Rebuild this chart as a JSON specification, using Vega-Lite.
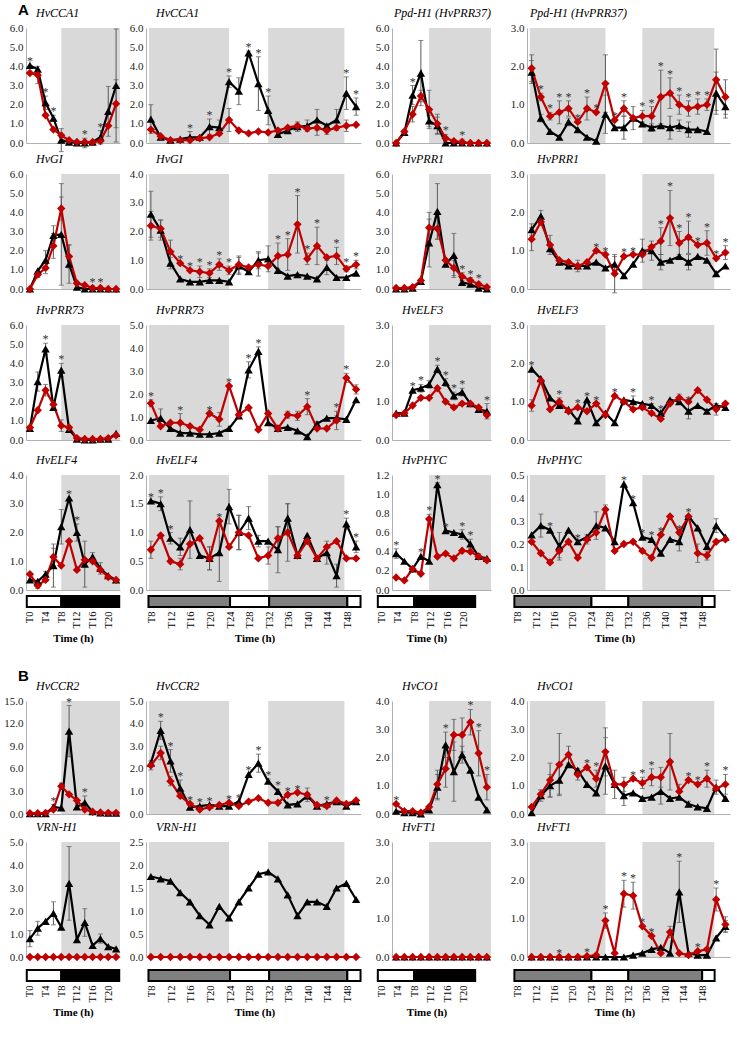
{
"$schema":"https://vega.github.io/schema/vega-lite/v6.json",
"padding":{"left":3,"top":3,"right":2,"bottom":2},
"datasets":{
"sn":[{"a":8,"b":23}],
"sw":[{"a":7.6,"b":24},{"a":32,"b":47.6}],
"bn":[{"a":-0.8,"b":8,"c":"L"},{"a":8,"b":22.8,"c":"D"}],
"bw":[{"a":7.3,"b":24,"c":"S"},{"a":24,"b":32,"c":"L"},{"a":32,"b":48,"c":"S"},{"a":48,"b":50.7,"c":"L"}],
"a1":[{"s":"b","t":0,"v":4.05,"k":1},{"s":"b","t":2,"v":3.85},{"s":"b","t":4,"v":2.1,"e":0.35,"k":1},{"s":"b","t":6,"v":1.3,"e":0.15,"k":1},{"s":"b","t":8,"v":0.15,"e":0.6},{"s":"b","t":10,"v":0.05},{"s":"b","t":12,"v":0},{"s":"b","t":14,"v":0,"e":0.25,"k":1},{"s":"b","t":16,"v":0.05},{"s":"b","t":18,"v":0.3,"e":0.35,"k":1},{"s":"b","t":20,"v":1.65,"e":1.3},{"s":"b","t":22,"v":3,"e":2.95},
{"s":"r","t":0,"v":3.65},{"s":"r","t":2,"v":3.55,"e":0.45},{"s":"r","t":4,"v":1.45},{"s":"r","t":6,"v":0.7},{"s":"r","t":8,"v":0.4},{"s":"r","t":10,"v":0.15},{"s":"r","t":12,"v":0.05},{"s":"r","t":14,"v":0.05},{"s":"r","t":16,"v":0.05},{"s":"r","t":18,"v":0.1},{"s":"r","t":20,"v":0.9},{"s":"r","t":22,"v":2.05,"e":1.25}],
"a2":[{"s":"b","t":8,"v":1.25,"e":0.75},{"s":"b","t":10,"v":0.3},{"s":"b","t":12,"v":0.15},{"s":"b","t":14,"v":0.2},{"s":"b","t":16,"v":0.3,"e":0.3,"k":1},{"s":"b","t":18,"v":0.3},{"s":"b","t":20,"v":0.85,"e":0.4,"k":1},{"s":"b","t":22,"v":0.8,"e":0.4},{"s":"b","t":24,"v":3.2,"e":0.3,"k":1},{"s":"b","t":26,"v":2.7,"e":0.7},{"s":"b","t":28,"v":4.7,"e":0.1,"k":1},{"s":"b","t":30,"v":3.1,"e":1.4,"k":1},{"s":"b","t":32,"v":1.7,"e":0.75,"k":1},{"s":"b","t":34,"v":0.45},{"s":"b","t":36,"v":0.65},{"s":"b","t":38,"v":0.85,"e":0.25},{"s":"b","t":40,"v":0.9,"e":0.3},{"s":"b","t":42,"v":1.2,"e":0.55},{"s":"b","t":44,"v":0.9},{"s":"b","t":46,"v":1.2,"e":0.55},{"s":"b","t":48,"v":2.6,"e":0.85,"k":1},{"s":"b","t":50,"v":1.9,"e":0.45,"k":1},
{"s":"r","t":8,"v":0.7},{"s":"r","t":10,"v":0.35},{"s":"r","t":12,"v":0.15},{"s":"r","t":14,"v":0.15},{"s":"r","t":16,"v":0.15},{"s":"r","t":18,"v":0.25},{"s":"r","t":20,"v":0.3},{"s":"r","t":22,"v":0.5},{"s":"r","t":24,"v":1.2,"e":0.6},{"s":"r","t":26,"v":0.65},{"s":"r","t":28,"v":0.5},{"s":"r","t":30,"v":0.6},{"s":"r","t":32,"v":0.55},{"s":"r","t":34,"v":0.65},{"s":"r","t":36,"v":0.8},{"s":"r","t":38,"v":0.9},{"s":"r","t":40,"v":0.75},{"s":"r","t":42,"v":0.8,"e":0.4},{"s":"r","t":44,"v":0.65,"e":0.2},{"s":"r","t":46,"v":0.8},{"s":"r","t":48,"v":0.9,"e":0.3},{"s":"r","t":50,"v":0.95}],
"a3":[{"s":"b","t":0,"v":0},{"s":"b","t":2,"v":0.55},{"s":"b","t":4,"v":2.5,"e":0.5,"k":1},{"s":"b","t":6,"v":3.65,"e":1.7},{"s":"b","t":8,"v":1.15,"e":0.3},{"s":"b","t":10,"v":0.9,"e":0.45},{"s":"b","t":12,"v":0},{"s":"b","t":14,"v":0},{"s":"b","t":16,"v":0},{"s":"b","t":18,"v":0},{"s":"b","t":20,"v":0},{"s":"b","t":22,"v":0},
{"s":"r","t":0,"v":0},{"s":"r","t":2,"v":0.6},{"s":"r","t":4,"v":1.5,"e":0.4},{"s":"r","t":6,"v":2.45,"e":0.3},{"s":"r","t":8,"v":1.75,"e":1},{"s":"r","t":10,"v":1,"e":0.5},{"s":"r","t":12,"v":0.25,"e":0.2,"k":1},{"s":"r","t":14,"v":0.1},{"s":"r","t":16,"v":0.05,"e":0.15,"k":1},{"s":"r","t":18,"v":0},{"s":"r","t":20,"v":0},{"s":"r","t":22,"v":0}],
"a4":[{"s":"b","t":8,"v":1.85,"e":0.3},{"s":"b","t":10,"v":0.65,"e":0.1},{"s":"b","t":12,"v":0.3},{"s":"b","t":14,"v":0.15},{"s":"b","t":16,"v":0.55,"e":0.1},{"s":"b","t":18,"v":0.35},{"s":"b","t":20,"v":0.15},{"s":"b","t":22,"v":0.05},{"s":"b","t":24,"v":0.75,"e":0.5},{"s":"b","t":26,"v":0.4},{"s":"b","t":28,"v":0.4,"e":0.3},{"s":"b","t":30,"v":0.65,"e":0.3},{"s":"b","t":32,"v":0.5},{"s":"b","t":34,"v":0.4,"e":0.1},{"s":"b","t":36,"v":0.45},{"s":"b","t":38,"v":0.4,"e":0.3},{"s":"b","t":40,"v":0.45,"e":0.15},{"s":"b","t":42,"v":0.35,"e":0.2},{"s":"b","t":44,"v":0.35},{"s":"b","t":46,"v":0.3},{"s":"b","t":48,"v":1.3,"e":0.55},{"s":"b","t":50,"v":0.95,"e":0.3},
{"s":"r","t":8,"v":1.95,"e":0.35},{"s":"r","t":10,"v":1.2,"e":0.1,"k":1},{"s":"r","t":12,"v":0.7,"e":0.1,"k":1},{"s":"r","t":14,"v":0.8,"e":0.3,"k":1},{"s":"r","t":16,"v":0.9,"e":0.2,"k":1},{"s":"r","t":18,"v":0.55,"k":1},{"s":"r","t":20,"v":0.9,"e":0.3,"k":1},{"s":"r","t":22,"v":0.8,"k":1},{"s":"r","t":24,"v":1.55,"e":0.75},{"s":"r","t":26,"v":0.6,"k":1},{"s":"r","t":28,"v":0.9,"e":0.2,"k":1},{"s":"r","t":30,"v":0.65},{"s":"r","t":32,"v":0.7,"e":0.15,"k":1},{"s":"r","t":34,"v":0.7,"e":0.25,"k":1},{"s":"r","t":36,"v":1.2,"e":0.7,"k":1},{"s":"r","t":38,"v":1.3,"e":0.4,"k":1},{"s":"r","t":40,"v":1,"e":0.25,"k":1},{"s":"r","t":42,"v":0.9,"e":0.2,"k":1},{"s":"r","t":44,"v":0.95,"e":0.2,"k":1},{"s":"r","t":46,"v":1,"e":0.15,"k":1},{"s":"r","t":48,"v":1.65,"e":0.8},{"s":"r","t":50,"v":1.2,"e":0.45}],
"a5":[{"s":"b","t":0,"v":0},{"s":"b","t":2,"v":0.95},{"s":"b","t":4,"v":1.5,"e":0.5},{"s":"b","t":6,"v":2.8,"e":0.5},{"s":"b","t":8,"v":2.85,"e":2.65},{"s":"b","t":10,"v":1.3,"e":1},{"s":"b","t":12,"v":0.1},{"s":"b","t":14,"v":0},{"s":"b","t":16,"v":0},{"s":"b","t":18,"v":0},{"s":"b","t":20,"v":0},{"s":"b","t":22,"v":0},
{"s":"r","t":0,"v":0},{"s":"r","t":2,"v":0.75,"e":0.15},{"s":"r","t":4,"v":1.1,"e":0.3},{"s":"r","t":6,"v":2.25,"e":0.65},{"s":"r","t":8,"v":4.2,"e":0.6},{"s":"r","t":10,"v":1.7,"e":0.6},{"s":"r","t":12,"v":0.3},{"s":"r","t":14,"v":0.2},{"s":"r","t":16,"v":0.05,"e":0.1,"k":1},{"s":"r","t":18,"v":0.05,"e":0.1,"k":1},{"s":"r","t":20,"v":0},{"s":"r","t":22,"v":0}],
"a6":[{"s":"b","t":8,"v":2.6,"e":0.8},{"s":"b","t":10,"v":2.05,"e":0.35},{"s":"b","t":12,"v":0.9,"e":0.2},{"s":"b","t":14,"v":0.35},{"s":"b","t":16,"v":0.25},{"s":"b","t":18,"v":0.25},{"s":"b","t":20,"v":0.3},{"s":"b","t":22,"v":0.3},{"s":"b","t":24,"v":0.25},{"s":"b","t":26,"v":0.8,"e":0.3},{"s":"b","t":28,"v":0.6},{"s":"b","t":30,"v":1,"e":0.3},{"s":"b","t":32,"v":1.05,"e":0.45},{"s":"b","t":34,"v":0.65},{"s":"b","t":36,"v":0.45},{"s":"b","t":38,"v":0.5},{"s":"b","t":40,"v":0.45},{"s":"b","t":42,"v":0.35},{"s":"b","t":44,"v":0.75,"e":0.25},{"s":"b","t":46,"v":0.4},{"s":"b","t":48,"v":0.4},{"s":"b","t":50,"v":0.55},
{"s":"r","t":8,"v":2.2,"e":0.5},{"s":"r","t":10,"v":2.1,"e":0.3},{"s":"r","t":12,"v":1.3,"e":0.4},{"s":"r","t":14,"v":0.9,"k":1},{"s":"r","t":16,"v":0.65,"k":1},{"s":"r","t":18,"v":0.6,"e":0.2,"k":1},{"s":"r","t":20,"v":0.55,"e":0.15,"k":1},{"s":"r","t":22,"v":0.85,"e":0.2,"k":1},{"s":"r","t":24,"v":0.65,"e":0.15,"k":1},{"s":"r","t":26,"v":0.85,"e":0.3},{"s":"r","t":28,"v":0.75},{"s":"r","t":30,"v":0.85,"e":0.4},{"s":"r","t":32,"v":0.8},{"s":"r","t":34,"v":1.15,"e":0.45,"k":1},{"s":"r","t":36,"v":1.2,"e":0.55,"k":1},{"s":"r","t":38,"v":2.25,"e":1,"k":1},{"s":"r","t":40,"v":1.05,"e":0.2,"k":1},{"s":"r","t":42,"v":1.5,"e":0.65,"k":1},{"s":"r","t":44,"v":1.1},{"s":"r","t":46,"v":1.15,"e":0.3,"k":1},{"s":"r","t":48,"v":0.7,"e":0.1,"k":1},{"s":"r","t":50,"v":0.85,"e":0.15,"k":1}],
"a7":[{"s":"b","t":0,"v":0},{"s":"b","t":2,"v":0},{"s":"b","t":4,"v":0.05},{"s":"b","t":6,"v":0.4},{"s":"b","t":8,"v":2.4,"e":1.25},{"s":"b","t":10,"v":4.05,"e":1.45},{"s":"b","t":12,"v":1.3},{"s":"b","t":14,"v":1.75,"e":1.15},{"s":"b","t":16,"v":0.35},{"s":"b","t":18,"v":0.25},{"s":"b","t":20,"v":0.05},{"s":"b","t":22,"v":0},
{"s":"r","t":0,"v":0.05},{"s":"r","t":2,"v":0.05},{"s":"r","t":4,"v":0.1},{"s":"r","t":6,"v":0.45},{"s":"r","t":8,"v":3.2,"e":0.8},{"s":"r","t":10,"v":3.15,"e":0.55},{"s":"r","t":12,"v":1.5},{"s":"r","t":14,"v":1.1,"e":0.4},{"s":"r","t":16,"v":0.65,"e":0.2,"k":1},{"s":"r","t":18,"v":0.45,"e":0.15,"k":1},{"s":"r","t":20,"v":0.25,"e":0.1,"k":1},{"s":"r","t":22,"v":0.1}],
"a8":[{"s":"b","t":8,"v":1.55,"e":0.15},{"s":"b","t":10,"v":1.9,"e":0.15},{"s":"b","t":12,"v":1.05},{"s":"b","t":14,"v":0.7},{"s":"b","t":16,"v":0.6},{"s":"b","t":18,"v":0.6},{"s":"b","t":20,"v":0.6},{"s":"b","t":22,"v":0.7},{"s":"b","t":24,"v":0.55},{"s":"b","t":26,"v":0.65,"e":0.2},{"s":"b","t":28,"v":0.35},{"s":"b","t":30,"v":0.65},{"s":"b","t":32,"v":1,"e":0.3},{"s":"b","t":34,"v":1,"e":0.25},{"s":"b","t":36,"v":0.7,"e":0.2},{"s":"b","t":38,"v":0.75},{"s":"b","t":40,"v":0.85},{"s":"b","t":42,"v":0.7,"e":0.2},{"s":"b","t":44,"v":0.85},{"s":"b","t":46,"v":0.75},{"s":"b","t":48,"v":0.4},{"s":"b","t":50,"v":0.6},
{"s":"r","t":8,"v":1.3,"e":0.3},{"s":"r","t":10,"v":1.75},{"s":"r","t":12,"v":1.15,"e":0.25},{"s":"r","t":14,"v":0.75},{"s":"r","t":16,"v":0.7},{"s":"r","t":18,"v":0.6,"e":0.15},{"s":"r","t":20,"v":0.7},{"s":"r","t":22,"v":1,"k":1},{"s":"r","t":24,"v":0.9,"k":1},{"s":"r","t":26,"v":0.4,"e":0.5},{"s":"r","t":28,"v":0.85,"k":1},{"s":"r","t":30,"v":0.9,"k":1},{"s":"r","t":32,"v":0.9},{"s":"r","t":34,"v":1.1},{"s":"r","t":36,"v":1.25,"e":0.35,"k":1},{"s":"r","t":38,"v":1.85,"e":0.72,"k":1},{"s":"r","t":40,"v":1.2,"e":0.3,"k":1},{"s":"r","t":42,"v":1.35,"e":0.42,"k":1},{"s":"r","t":44,"v":1.15,"k":1},{"s":"r","t":46,"v":1.2,"e":0.32,"k":1},{"s":"r","t":48,"v":0.8,"k":1},{"s":"r","t":50,"v":0.95,"e":0.18,"k":1}],
"a9":[{"s":"b","t":0,"v":0.6},{"s":"b","t":2,"v":3.05,"e":0.5},{"s":"b","t":4,"v":4.75,"e":0.3,"k":1},{"s":"b","t":6,"v":1.7,"e":0.15},{"s":"b","t":8,"v":3.65,"e":0.35,"k":1},{"s":"b","t":10,"v":0.55},{"s":"b","t":12,"v":0.05},{"s":"b","t":14,"v":0},{"s":"b","t":16,"v":0},{"s":"b","t":18,"v":0.05},{"s":"b","t":20,"v":0.05},{"s":"b","t":22,"v":0.35},
{"s":"r","t":0,"v":0.65},{"s":"r","t":2,"v":1.55},{"s":"r","t":4,"v":2.6,"e":0.3},{"s":"r","t":6,"v":1.85},{"s":"r","t":8,"v":0.75,"e":0.3},{"s":"r","t":10,"v":0.65},{"s":"r","t":12,"v":0.1},{"s":"r","t":14,"v":0.05},{"s":"r","t":16,"v":0.05},{"s":"r","t":18,"v":0.05},{"s":"r","t":20,"v":0.1},{"s":"r","t":22,"v":0.25}],
"a10":[{"s":"b","t":8,"v":0.85},{"s":"b","t":10,"v":0.95,"e":0.4},{"s":"b","t":12,"v":0.5},{"s":"b","t":14,"v":0.3},{"s":"b","t":16,"v":0.3},{"s":"b","t":18,"v":0.25},{"s":"b","t":20,"v":0.25},{"s":"b","t":22,"v":0.3},{"s":"b","t":24,"v":0.5},{"s":"b","t":26,"v":1.05},{"s":"b","t":28,"v":3.05,"e":0.35,"k":1},{"s":"b","t":30,"v":3.85,"e":0.2,"k":1},{"s":"b","t":32,"v":0.75},{"s":"b","t":34,"v":0.5},{"s":"b","t":36,"v":0.55},{"s":"b","t":38,"v":0.4},{"s":"b","t":40,"v":0.15},{"s":"b","t":42,"v":0.7,"e":0.1},{"s":"b","t":44,"v":0.95},{"s":"b","t":46,"v":0.95,"e":0.1},{"s":"b","t":48,"v":0.9},{"s":"b","t":50,"v":1.75},
{"s":"r","t":8,"v":1.6,"e":0.15,"k":1},{"s":"r","t":10,"v":0.6},{"s":"r","t":12,"v":0.75},{"s":"r","t":14,"v":0.75,"e":0.4,"k":1},{"s":"r","t":16,"v":0.6},{"s":"r","t":18,"v":0.45},{"s":"r","t":20,"v":1.15,"k":1},{"s":"r","t":22,"v":0.9,"e":0.3},{"s":"r","t":24,"v":2.35,"k":1},{"s":"r","t":26,"v":1.1},{"s":"r","t":28,"v":1.4},{"s":"r","t":30,"v":0.45},{"s":"r","t":32,"v":1.15},{"s":"r","t":34,"v":0.5},{"s":"r","t":36,"v":1.1,"e":0.15},{"s":"r","t":38,"v":1.05,"e":0.2},{"s":"r","t":40,"v":1.45,"e":0.35,"k":1},{"s":"r","t":42,"v":0.5},{"s":"r","t":44,"v":0.5},{"s":"r","t":46,"v":0.85,"e":0.4,"k":1},{"s":"r","t":48,"v":2.7,"e":0.2,"k":1},{"s":"r","t":50,"v":2.2,"e":0.2}],
"a11":[{"s":"b","t":0,"v":0.7},{"s":"b","t":2,"v":0.7},{"s":"b","t":4,"v":1.3,"k":1},{"s":"b","t":6,"v":1.35,"e":0.1,"k":1},{"s":"b","t":8,"v":1.45,"e":0.1},{"s":"b","t":10,"v":1.85,"e":0.1,"k":1},{"s":"b","t":12,"v":1.5,"e":0.1,"k":1},{"s":"b","t":14,"v":1.15,"e":0.1,"k":1},{"s":"b","t":16,"v":1.25,"e":0.1,"k":1},{"s":"b","t":18,"v":0.95},{"s":"b","t":20,"v":0.8},{"s":"b","t":22,"v":0.75,"e":0.2,"k":1},
{"s":"r","t":0,"v":0.65},{"s":"r","t":2,"v":0.7},{"s":"r","t":4,"v":0.9},{"s":"r","t":6,"v":1.1},{"s":"r","t":8,"v":1.1},{"s":"r","t":10,"v":1.35},{"s":"r","t":12,"v":1},{"s":"r","t":14,"v":0.85},{"s":"r","t":16,"v":0.95},{"s":"r","t":18,"v":0.95},{"s":"r","t":20,"v":0.85},{"s":"r","t":22,"v":0.65}],
"a12":[{"s":"b","t":8,"v":1.85,"k":1},{"s":"b","t":10,"v":1.6},{"s":"b","t":12,"v":1.1},{"s":"b","t":14,"v":0.9},{"s":"b","t":16,"v":0.8},{"s":"b","t":18,"v":0.5},{"s":"b","t":20,"v":1.05,"k":1},{"s":"b","t":22,"v":0.45},{"s":"b","t":24,"v":0.7},{"s":"b","t":26,"v":0.45},{"s":"b","t":28,"v":1.05},{"s":"b","t":30,"v":1,"e":0.15,"k":1},{"s":"b","t":32,"v":0.95},{"s":"b","t":34,"v":0.9,"e":0.05,"k":1},{"s":"b","t":36,"v":0.7,"k":1},{"s":"b","t":38,"v":1.05},{"s":"b","t":40,"v":1},{"s":"b","t":42,"v":0.75,"e":0.2,"k":1},{"s":"b","t":44,"v":0.9},{"s":"b","t":46,"v":0.75},{"s":"b","t":48,"v":0.9},{"s":"b","t":50,"v":0.85},
{"s":"r","t":8,"v":0.9,"e":0.15},{"s":"r","t":10,"v":1.55},{"s":"r","t":12,"v":0.8},{"s":"r","t":14,"v":1,"e":0.1,"k":1},{"s":"r","t":16,"v":0.75},{"s":"r","t":18,"v":0.85,"k":1},{"s":"r","t":20,"v":0.75},{"s":"r","t":22,"v":0.95,"k":1},{"s":"r","t":24,"v":0.65},{"s":"r","t":26,"v":1.15,"k":1},{"s":"r","t":28,"v":1},{"s":"r","t":30,"v":0.8},{"s":"r","t":32,"v":0.85},{"s":"r","t":34,"v":0.7},{"s":"r","t":36,"v":0.55},{"s":"r","t":38,"v":0.95},{"s":"r","t":40,"v":1.1,"e":0.1},{"s":"r","t":42,"v":1},{"s":"r","t":44,"v":1.3},{"s":"r","t":46,"v":1.05},{"s":"r","t":48,"v":0.8,"e":0.15},{"s":"r","t":50,"v":0.95}],
"a13":[{"s":"b","t":0,"v":0.35},{"s":"b","t":2,"v":0.3},{"s":"b","t":4,"v":0.55,"e":0.1},{"s":"b","t":6,"v":0.85,"e":0.75},{"s":"b","t":8,"v":2.2,"e":0.6},{"s":"b","t":10,"v":3.2,"k":1},{"s":"b","t":12,"v":2,"e":0.3,"k":1},{"s":"b","t":14,"v":0.9,"e":0.8},{"s":"b","t":16,"v":1.15,"e":0.15},{"s":"b","t":18,"v":0.75,"e":0.2},{"s":"b","t":20,"v":0.5},{"s":"b","t":22,"v":0.35},
{"s":"r","t":0,"v":0.55},{"s":"r","t":2,"v":0.15,"e":0.1},{"s":"r","t":4,"v":0.35},{"s":"r","t":6,"v":1.15,"e":0.3},{"s":"r","t":8,"v":0.85},{"s":"r","t":10,"v":1.7},{"s":"r","t":12,"v":0.7},{"s":"r","t":14,"v":1.05},{"s":"r","t":16,"v":1},{"s":"r","t":18,"v":0.7},{"s":"r","t":20,"v":0.45},{"s":"r","t":22,"v":0.35}],
"a14":[{"s":"b","t":8,"v":1.55,"k":1},{"s":"b","t":10,"v":1.5,"e":0.12,"k":1},{"s":"b","t":12,"v":0.9,"e":0.1,"k":1},{"s":"b","t":14,"v":0.75,"e":0.15},{"s":"b","t":16,"v":1.05,"e":0.5},{"s":"b","t":18,"v":0.6},{"s":"b","t":20,"v":0.55,"e":0.2},{"s":"b","t":22,"v":0.65,"e":0.5},{"s":"b","t":24,"v":1.45,"e":0.3},{"s":"b","t":26,"v":1,"e":0.3},{"s":"b","t":28,"v":1.25,"e":0.2},{"s":"b","t":30,"v":0.85,"e":0.1},{"s":"b","t":32,"v":0.85},{"s":"b","t":34,"v":0.7,"e":0.4},{"s":"b","t":36,"v":1.25,"e":0.25},{"s":"b","t":38,"v":0.6},{"s":"b","t":40,"v":0.95},{"s":"b","t":42,"v":0.55},{"s":"b","t":44,"v":0.65,"e":0.2},{"s":"b","t":46,"v":0.25,"e":0.2},{"s":"b","t":48,"v":1.15,"e":0.1,"k":1},{"s":"b","t":50,"v":0.75,"e":0.1,"k":1},
{"s":"r","t":8,"v":0.7,"e":0.15},{"s":"r","t":10,"v":0.95},{"s":"r","t":12,"v":0.5},{"s":"r","t":14,"v":0.45,"e":0.1},{"s":"r","t":16,"v":0.8},{"s":"r","t":18,"v":0.9},{"s":"r","t":20,"v":0.55,"e":0.2},{"s":"r","t":22,"v":1.2,"k":1},{"s":"r","t":24,"v":0.75},{"s":"r","t":26,"v":1,"e":0.3},{"s":"r","t":28,"v":0.95},{"s":"r","t":30,"v":0.55},{"s":"r","t":32,"v":0.6,"e":0.15},{"s":"r","t":34,"v":0.9,"e":0.2},{"s":"r","t":36,"v":1,"e":0.5},{"s":"r","t":38,"v":0.6},{"s":"r","t":40,"v":0.85},{"s":"r","t":42,"v":0.55},{"s":"r","t":44,"v":0.75},{"s":"r","t":46,"v":0.85},{"s":"r","t":48,"v":0.55},{"s":"r","t":50,"v":0.55}],
"a15":[{"s":"b","t":0,"v":0.38,"e":0.05,"k":1},{"s":"b","t":2,"v":0.3},{"s":"b","t":4,"v":0.22},{"s":"b","t":6,"v":0.35,"k":1},{"s":"b","t":8,"v":0.3},{"s":"b","t":10,"v":1.1,"e":0.02,"k":1},{"s":"b","t":12,"v":0.62,"k":1},{"s":"b","t":14,"v":0.6},{"s":"b","t":16,"v":0.58,"e":0.05,"k":1},{"s":"b","t":18,"v":0.48,"e":0.05,"k":1},{"s":"b","t":20,"v":0.35,"e":0.03},{"s":"b","t":22,"v":0.33},
{"s":"r","t":0,"v":0.13},{"s":"r","t":2,"v":0.1},{"s":"r","t":4,"v":0.22},{"s":"r","t":6,"v":0.17},{"s":"r","t":8,"v":0.74,"e":0.05,"k":1},{"s":"r","t":10,"v":0.35},{"s":"r","t":12,"v":0.38},{"s":"r","t":14,"v":0.33},{"s":"r","t":16,"v":0.41},{"s":"r","t":18,"v":0.4},{"s":"r","t":20,"v":0.35},{"s":"r","t":22,"v":0.31}],
"a16":[{"s":"b","t":8,"v":0.24},{"s":"b","t":10,"v":0.28,"e":0.05},{"s":"b","t":12,"v":0.26,"k":1},{"s":"b","t":14,"v":0.19,"e":0.06},{"s":"b","t":16,"v":0.26},{"s":"b","t":18,"v":0.21,"k":1},{"s":"b","t":20,"v":0.23},{"s":"b","t":22,"v":0.28,"e":0.06},{"s":"b","t":24,"v":0.27},{"s":"b","t":26,"v":0.21},{"s":"b","t":28,"v":0.46,"k":1},{"s":"b","t":30,"v":0.38,"k":1},{"s":"b","t":32,"v":0.23,"k":1},{"s":"b","t":34,"v":0.22,"k":1},{"s":"b","t":36,"v":0.16},{"s":"b","t":38,"v":0.22},{"s":"b","t":40,"v":0.21,"e":0.04},{"s":"b","t":42,"v":0.32,"k":1},{"s":"b","t":44,"v":0.27},{"s":"b","t":46,"v":0.19},{"s":"b","t":48,"v":0.28,"e":0.03},{"s":"b","t":50,"v":0.23},
{"s":"r","t":8,"v":0.21},{"s":"r","t":10,"v":0.16},{"s":"r","t":12,"v":0.12},{"s":"r","t":14,"v":0.17,"e":0.03},{"s":"r","t":16,"v":0.21},{"s":"r","t":18,"v":0.14},{"s":"r","t":20,"v":0.22,"e":0.02},{"s":"r","t":22,"v":0.25},{"s":"r","t":24,"v":0.35,"e":0.02},{"s":"r","t":26,"v":0.17},{"s":"r","t":28,"v":0.2},{"s":"r","t":30,"v":0.21},{"s":"r","t":32,"v":0.17},{"s":"r","t":34,"v":0.14},{"s":"r","t":36,"v":0.24,"k":1},{"s":"r","t":38,"v":0.32},{"s":"r","t":40,"v":0.25,"k":1},{"s":"r","t":42,"v":0.32},{"s":"r","t":44,"v":0.16,"e":0.04},{"s":"r","t":46,"v":0.15,"e":0.02},{"s":"r","t":48,"v":0.21},{"s":"r","t":50,"v":0.22}],
"b1":[{"s":"b","t":0,"v":0.05},{"s":"b","t":2,"v":0.05},{"s":"b","t":4,"v":0.05},{"s":"b","t":6,"v":0.95,"e":0.3,"k":1},{"s":"b","t":8,"v":0.8},{"s":"b","t":10,"v":11,"e":3.4,"k":1},{"s":"b","t":12,"v":0.95},{"s":"b","t":14,"v":1.5,"e":0.9,"k":1},{"s":"b","t":16,"v":0.3},{"s":"b","t":18,"v":0.15},{"s":"b","t":20,"v":0.1},{"s":"b","t":22,"v":0.1},
{"s":"r","t":0,"v":0.1},{"s":"r","t":2,"v":0.1},{"s":"r","t":4,"v":0.15},{"s":"r","t":6,"v":0.6},{"s":"r","t":8,"v":3.7,"e":0.4},{"s":"r","t":10,"v":2.6},{"s":"r","t":12,"v":1.8},{"s":"r","t":14,"v":0.6},{"s":"r","t":16,"v":0.3},{"s":"r","t":18,"v":0.2},{"s":"r","t":20,"v":0.15},{"s":"r","t":22,"v":0.15}],
"b2":[{"s":"b","t":8,"v":2.25},{"s":"b","t":10,"v":3.7,"e":0.4,"k":1},{"s":"b","t":12,"v":2.35,"e":0.5,"k":1},{"s":"b","t":14,"v":1.15,"e":0.35,"k":1},{"s":"b","t":16,"v":0.3},{"s":"b","t":18,"v":0.35,"k":1},{"s":"b","t":20,"v":0.4,"k":1},{"s":"b","t":22,"v":0.35},{"s":"b","t":24,"v":0.35},{"s":"b","t":26,"v":0.55,"k":1},{"s":"b","t":28,"v":1.75,"k":1},{"s":"b","t":30,"v":2.25,"e":0.4,"k":1},{"s":"b","t":32,"v":1.45,"e":0.1,"k":1},{"s":"b","t":34,"v":1,"e":0.1,"k":1},{"s":"b","t":36,"v":0.4},{"s":"b","t":38,"v":0.45},{"s":"b","t":40,"v":0.8,"e":0.15},{"s":"b","t":42,"v":0.35},{"s":"b","t":44,"v":0.45,"k":1},{"s":"b","t":46,"v":0.55},{"s":"b","t":48,"v":0.35},{"s":"b","t":50,"v":0.55},
{"s":"r","t":8,"v":2.15,"e":0.2},{"s":"r","t":10,"v":2.7,"e":0.3},{"s":"r","t":12,"v":1.45,"e":0.2},{"s":"r","t":14,"v":0.8},{"s":"r","t":16,"v":0.45,"k":1},{"s":"r","t":18,"v":0.2},{"s":"r","t":20,"v":0.3},{"s":"r","t":22,"v":0.4},{"s":"r","t":24,"v":0.5,"k":1},{"s":"r","t":26,"v":0.35},{"s":"r","t":28,"v":0.55},{"s":"r","t":30,"v":0.7},{"s":"r","t":32,"v":0.5},{"s":"r","t":34,"v":0.5},{"s":"r","t":36,"v":0.85,"k":1},{"s":"r","t":38,"v":0.95,"k":1},{"s":"r","t":40,"v":0.85,"e":0.3},{"s":"r","t":42,"v":0.4},{"s":"r","t":44,"v":0.35},{"s":"r","t":46,"v":0.6},{"s":"r","t":48,"v":0.45},{"s":"r","t":50,"v":0.6}],
"b3":[{"s":"b","t":0,"v":0.1},{"s":"b","t":2,"v":0.05},{"s":"b","t":4,"v":0.05},{"s":"b","t":6,"v":0},{"s":"b","t":8,"v":0.15},{"s":"b","t":10,"v":0.95,"e":0.45},{"s":"b","t":12,"v":2.45,"e":0.45,"k":1},{"s":"b","t":14,"v":1.5,"e":1.05},{"s":"b","t":16,"v":2.1,"e":0.3},{"s":"b","t":18,"v":1.55},{"s":"b","t":20,"v":0.6},{"s":"b","t":22,"v":0.15},
{"s":"r","t":0,"v":0.35,"k":1},{"s":"r","t":2,"v":0.1},{"s":"r","t":4,"v":0.1},{"s":"r","t":6,"v":0.05},{"s":"r","t":8,"v":0.25},{"s":"r","t":10,"v":1.05,"e":0.5},{"s":"r","t":12,"v":1.6,"e":0.65},{"s":"r","t":14,"v":2.8,"e":0.55},{"s":"r","t":16,"v":2.8,"e":0.6},{"s":"r","t":18,"v":3.25,"e":0.45,"k":1},{"s":"r","t":20,"v":2.15,"e":0.8,"k":1},{"s":"r","t":22,"v":0.95,"e":0.45,"k":1}],
"b4":[{"s":"b","t":8,"v":0.05},{"s":"b","t":10,"v":0.65,"e":0.2},{"s":"b","t":12,"v":1,"e":0.4},{"s":"b","t":14,"v":1.2,"e":0.5},{"s":"b","t":16,"v":1.75},{"s":"b","t":18,"v":1.55},{"s":"b","t":20,"v":1.05},{"s":"b","t":22,"v":0.75},{"s":"b","t":24,"v":1.7,"e":1},{"s":"b","t":26,"v":1.05},{"s":"b","t":28,"v":0.65,"e":0.35},{"s":"b","t":30,"v":0.75},{"s":"b","t":32,"v":0.55},{"s":"b","t":34,"v":0.6},{"s":"b","t":36,"v":0.8,"e":0.45},{"s":"b","t":38,"v":0.55},{"s":"b","t":40,"v":0.6},{"s":"b","t":42,"v":0.35,"e":0.1},{"s":"b","t":44,"v":0.25},{"s":"b","t":46,"v":0.2},{"s":"b","t":48,"v":0.95,"e":0.25},{"s":"b","t":50,"v":0.55},
{"s":"r","t":8,"v":0.25},{"s":"r","t":10,"v":0.7,"e":0.15},{"s":"r","t":12,"v":1.2,"e":0.6},{"s":"r","t":14,"v":1.75,"e":1.1},{"s":"r","t":16,"v":2.1,"e":0.3},{"s":"r","t":18,"v":1.4,"e":0.2},{"s":"r","t":20,"v":1.65,"k":1},{"s":"r","t":22,"v":1.25,"e":0.3,"k":1},{"s":"r","t":24,"v":2.2,"e":0.85},{"s":"r","t":26,"v":1.05,"e":0.5},{"s":"r","t":28,"v":1.05,"e":0.25},{"s":"r","t":30,"v":1.25,"k":1},{"s":"r","t":32,"v":1.1,"e":0.2,"k":1},{"s":"r","t":34,"v":1.3,"e":0.3,"k":1},{"s":"r","t":36,"v":1.3,"e":0.35},{"s":"r","t":38,"v":1.85,"e":1},{"s":"r","t":40,"v":0.8,"e":0.25},{"s":"r","t":42,"v":1.2,"k":1},{"s":"r","t":44,"v":1.05,"k":1},{"s":"r","t":46,"v":1.25,"e":0.3,"k":1},{"s":"r","t":48,"v":0.9},{"s":"r","t":50,"v":1.05,"e":0.35,"k":1}],
"b5":[{"s":"b","t":0,"v":0.8,"e":0.35},{"s":"b","t":2,"v":1.25,"e":0.3},{"s":"b","t":4,"v":1.55},{"s":"b","t":6,"v":1.9,"e":0.5},{"s":"b","t":8,"v":1.3},{"s":"b","t":10,"v":3.2,"e":1.6},{"s":"b","t":12,"v":0.75},{"s":"b","t":14,"v":1.5,"e":0.6},{"s":"b","t":16,"v":0.5},{"s":"b","t":18,"v":0.8,"e":0.2},{"s":"b","t":20,"v":0.45},{"s":"b","t":22,"v":0.35},
{"s":"r","t":0,"v":0},{"s":"r","t":2,"v":0},{"s":"r","t":4,"v":0},{"s":"r","t":6,"v":0},{"s":"r","t":8,"v":0},{"s":"r","t":10,"v":0},{"s":"r","t":12,"v":0},{"s":"r","t":14,"v":0},{"s":"r","t":16,"v":0},{"s":"r","t":18,"v":0},{"s":"r","t":20,"v":0},{"s":"r","t":22,"v":0}],
"b6":[{"s":"b","t":8,"v":1.75},{"s":"b","t":10,"v":1.7},{"s":"b","t":12,"v":1.65},{"s":"b","t":14,"v":1.4},{"s":"b","t":16,"v":1.2},{"s":"b","t":18,"v":0.9},{"s":"b","t":20,"v":0.7},{"s":"b","t":22,"v":1.1},{"s":"b","t":24,"v":0.85},{"s":"b","t":26,"v":1.2},{"s":"b","t":28,"v":1.5},{"s":"b","t":30,"v":1.8},{"s":"b","t":32,"v":1.85},{"s":"b","t":34,"v":1.7},{"s":"b","t":36,"v":1.35},{"s":"b","t":38,"v":0.9},{"s":"b","t":40,"v":1.2},{"s":"b","t":42,"v":1.2},{"s":"b","t":44,"v":1.1},{"s":"b","t":46,"v":1.5},{"s":"b","t":48,"v":1.6},{"s":"b","t":50,"v":1.25},
{"s":"r","t":8,"v":0},{"s":"r","t":10,"v":0},{"s":"r","t":12,"v":0},{"s":"r","t":14,"v":0},{"s":"r","t":16,"v":0},{"s":"r","t":18,"v":0},{"s":"r","t":20,"v":0},{"s":"r","t":22,"v":0},{"s":"r","t":24,"v":0},{"s":"r","t":26,"v":0},{"s":"r","t":28,"v":0},{"s":"r","t":30,"v":0},{"s":"r","t":32,"v":0},{"s":"r","t":34,"v":0},{"s":"r","t":36,"v":0},{"s":"r","t":38,"v":0},{"s":"r","t":40,"v":0},{"s":"r","t":42,"v":0},{"s":"r","t":44,"v":0},{"s":"r","t":46,"v":0},{"s":"r","t":48,"v":0},{"s":"r","t":50,"v":0}],
"b7":[{"s":"b","t":0,"v":0},{"s":"b","t":2,"v":0},{"s":"b","t":4,"v":0},{"s":"b","t":6,"v":0},{"s":"b","t":8,"v":0},{"s":"b","t":10,"v":0},{"s":"b","t":12,"v":0},{"s":"b","t":14,"v":0},{"s":"b","t":16,"v":0},{"s":"b","t":18,"v":0},{"s":"b","t":20,"v":0},{"s":"b","t":22,"v":0},
{"s":"r","t":0,"v":0},{"s":"r","t":2,"v":0},{"s":"r","t":4,"v":0},{"s":"r","t":6,"v":0},{"s":"r","t":8,"v":0},{"s":"r","t":10,"v":0},{"s":"r","t":12,"v":0},{"s":"r","t":14,"v":0},{"s":"r","t":16,"v":0},{"s":"r","t":18,"v":0},{"s":"r","t":20,"v":0},{"s":"r","t":22,"v":0}],
"b8":[{"s":"b","t":8,"v":0},{"s":"b","t":10,"v":0},{"s":"b","t":12,"v":0},{"s":"b","t":14,"v":0},{"s":"b","t":16,"v":0},{"s":"b","t":18,"v":0},{"s":"b","t":20,"v":0},{"s":"b","t":22,"v":0},{"s":"b","t":24,"v":0},{"s":"b","t":26,"v":0},{"s":"b","t":28,"v":0},{"s":"b","t":30,"v":0.05},{"s":"b","t":32,"v":0.1},{"s":"b","t":34,"v":0.2},{"s":"b","t":36,"v":0.25},{"s":"b","t":38,"v":0.1},{"s":"b","t":40,"v":1.7,"e":0.8,"k":1},{"s":"b","t":42,"v":0.1},{"s":"b","t":44,"v":0.05},{"s":"b","t":46,"v":0.05},{"s":"b","t":48,"v":0.5},{"s":"b","t":50,"v":0.8,"e":0.15},
{"s":"r","t":8,"v":0},{"s":"r","t":10,"v":0},{"s":"r","t":12,"v":0},{"s":"r","t":14,"v":0,"k":1},{"s":"r","t":16,"v":0},{"s":"r","t":18,"v":0},{"s":"r","t":20,"v":0.02,"k":1},{"s":"r","t":22,"v":0.05},{"s":"r","t":24,"v":0.95,"e":0.2,"k":1},{"s":"r","t":26,"v":0.1},{"s":"r","t":28,"v":1.65,"e":0.35,"k":1},{"s":"r","t":30,"v":1.6,"e":0.35,"k":1},{"s":"r","t":32,"v":0.8,"k":1},{"s":"r","t":34,"v":0.55,"k":1},{"s":"r","t":36,"v":0.1},{"s":"r","t":38,"v":0.65,"e":0.15},{"s":"r","t":40,"v":0.1},{"s":"r","t":42,"v":0.05},{"s":"r","t":44,"v":0.15,"k":1},{"s":"r","t":46,"v":0.2},{"s":"r","t":48,"v":1.5,"e":0.3,"k":1},{"s":"r","t":50,"v":0.85,"e":0.2}]
},
"config":{
"view":{"stroke":null},
"font":"Liberation Serif",
"axis":{"labelFont":"Liberation Serif","labelFontSize":11,"labelColor":"#222222","domainColor":"#b0b0b0","ticks":false,"grid":false,"labelPadding":3},
"axisX":{"labels":false},
"title":{"font":"Liberation Serif","fontStyle":"italic","fontWeight":"normal","fontSize":12,"anchor":"start","frame":"group","dx":10,"offset":2,"color":"#000000"},
"range":{"category":["#000000","#c00000"],"symbol":["triangle-up","diamond"]},
"legend":{"disable":true},
"point":{"filled":true,"size":70,"opacity":1},
"line":{"strokeWidth":2.2},
"rect":{"color":"#d9d9d9"},
"errorbar":{"ticks":true,"size":5,"thickness":0.8},
"text":{"font":"Liberation Serif","fontSize":12,"baseline":"middle","dy":-4}
},
"spacing":25,
"vconcat":[
{"title":{"text":"A","font":"Liberation Sans","fontStyle":"normal","fontWeight":"bold","fontSize":15,"dx":-8,"offset":-11},
"spacing":10,
"vconcat":[
{"spacing":0,"vconcat":[
{"spacing":14,"hconcat":[
{"spacing":8,"hconcat":[
{"width":94,"height":115,"title":"HvCCA1","layer":[{"data":{"name":"sn"},"mark":"rect","encoding":{"x":{"field":"a","type":"quantitative","title":null,"scale":{"domain":[-1,23]}},"x2":{"field":"b"}}},{"data":{"name":"a1"},"encoding":{"x":{"field":"t","type":"quantitative","title":null,"scale":{"domain":[-1,23]}},"y":{"field":"v","type":"quantitative","title":null,"scale":{"domain":[0,6]},"axis":{"values":[0,1,2,3,4,5,6],"format":".1f"}}},"layer":[{"transform":[{"filter":"datum.e"}],"mark":{"type":"errorbar","color":"#595959"},"encoding":{"yError":{"field":"e"}}},{"mark":"line","encoding":{"color":{"field":"s"}}},{"mark":"point","encoding":{"color":{"field":"s"},"shape":{"field":"s"}}},{"transform":[{"filter":"datum.k"},{"calculate":"datum.v+(datum.e||0)","as":"h"}],"mark":{"type":"text","text":"*","fill":"#333333"},"encoding":{"y":{"field":"h","type":"quantitative","title":null}}}]}]},
{"width":215,"height":115,"title":"HvCCA1","layer":[{"data":{"name":"sw"},"mark":"rect","encoding":{"x":{"field":"a","type":"quantitative","title":null,"scale":{"domain":[7,51]}},"x2":{"field":"b"}}},{"data":{"name":"a2"},"encoding":{"x":{"field":"t","type":"quantitative","title":null,"scale":{"domain":[7,51]}},"y":{"field":"v","type":"quantitative","title":null,"scale":{"domain":[0,6]},"axis":{"values":[0,1,2,3,4,5,6],"format":".1f"}}},"layer":[{"transform":[{"filter":"datum.e"}],"mark":{"type":"errorbar","color":"#595959"},"encoding":{"yError":{"field":"e"}}},{"mark":"line","encoding":{"color":{"field":"s"}}},{"mark":"point","encoding":{"color":{"field":"s"},"shape":{"field":"s"}}},{"transform":[{"filter":"datum.k"},{"calculate":"datum.v+(datum.e||0)","as":"h"}],"mark":{"type":"text","text":"*","fill":"#333333"},"encoding":{"y":{"field":"h","type":"quantitative","title":null}}}]}]}
]},
{"spacing":18,"hconcat":[
{"width":99,"height":115,"title":{"text":"Ppd-H1 (HvPRR37)","dx":2},"layer":[{"data":{"name":"sn"},"mark":"rect","encoding":{"x":{"field":"a","type":"quantitative","title":null,"scale":{"domain":[-1,23]}},"x2":{"field":"b"}}},{"data":{"name":"a3"},"encoding":{"x":{"field":"t","type":"quantitative","title":null,"scale":{"domain":[-1,23]}},"y":{"field":"v","type":"quantitative","title":null,"scale":{"domain":[0,6]},"axis":{"values":[0,1,2,3,4,5,6],"format":".1f"}}},"layer":[{"transform":[{"filter":"datum.e"}],"mark":{"type":"errorbar","color":"#595959"},"encoding":{"yError":{"field":"e"}}},{"mark":"line","encoding":{"color":{"field":"s"}}},{"mark":"point","encoding":{"color":{"field":"s"},"shape":{"field":"s"}}},{"transform":[{"filter":"datum.k"},{"calculate":"datum.v+(datum.e||0)","as":"h"}],"mark":{"type":"text","text":"*","fill":"#333333"},"encoding":{"y":{"field":"h","type":"quantitative","title":null}}}]}]},
{"width":203,"height":115,"title":{"text":"Ppd-H1 (HvPRR37)","dx":3},"layer":[{"data":{"name":"sw"},"mark":"rect","encoding":{"x":{"field":"a","type":"quantitative","title":null,"scale":{"domain":[7,51]}},"x2":{"field":"b"}}},{"data":{"name":"a4"},"encoding":{"x":{"field":"t","type":"quantitative","title":null,"scale":{"domain":[7,51]}},"y":{"field":"v","type":"quantitative","title":null,"scale":{"domain":[0,3]},"axis":{"values":[0,1,2,3],"format":".1f"}}},"layer":[{"transform":[{"filter":"datum.e"}],"mark":{"type":"errorbar","color":"#595959"},"encoding":{"yError":{"field":"e"}}},{"mark":"line","encoding":{"color":{"field":"s"}}},{"mark":"point","encoding":{"color":{"field":"s"},"shape":{"field":"s"}}},{"transform":[{"filter":"datum.k"},{"calculate":"datum.v+(datum.e||0)","as":"h"}],"mark":{"type":"text","text":"*","fill":"#333333"},"encoding":{"y":{"field":"h","type":"quantitative","title":null}}}]}]}
]}
]},
{"spacing":14,"hconcat":[
{"spacing":8,"hconcat":[
{"width":94,"height":115,"title":"HvGI","layer":[{"data":{"name":"sn"},"mark":"rect","encoding":{"x":{"field":"a","type":"quantitative","title":null,"scale":{"domain":[-1,23]}},"x2":{"field":"b"}}},{"data":{"name":"a5"},"encoding":{"x":{"field":"t","type":"quantitative","title":null,"scale":{"domain":[-1,23]}},"y":{"field":"v","type":"quantitative","title":null,"scale":{"domain":[0,6]},"axis":{"values":[0,1,2,3,4,5,6],"format":".1f"}}},"layer":[{"transform":[{"filter":"datum.e"}],"mark":{"type":"errorbar","color":"#595959"},"encoding":{"yError":{"field":"e"}}},{"mark":"line","encoding":{"color":{"field":"s"}}},{"mark":"point","encoding":{"color":{"field":"s"},"shape":{"field":"s"}}},{"transform":[{"filter":"datum.k"},{"calculate":"datum.v+(datum.e||0)","as":"h"}],"mark":{"type":"text","text":"*","fill":"#333333"},"encoding":{"y":{"field":"h","type":"quantitative","title":null}}}]}]},
{"width":215,"height":115,"title":"HvGI","layer":[{"data":{"name":"sw"},"mark":"rect","encoding":{"x":{"field":"a","type":"quantitative","title":null,"scale":{"domain":[7,51]}},"x2":{"field":"b"}}},{"data":{"name":"a6"},"encoding":{"x":{"field":"t","type":"quantitative","title":null,"scale":{"domain":[7,51]}},"y":{"field":"v","type":"quantitative","title":null,"scale":{"domain":[0,4]},"axis":{"values":[0,1,2,3,4],"format":".1f"}}},"layer":[{"transform":[{"filter":"datum.e"}],"mark":{"type":"errorbar","color":"#595959"},"encoding":{"yError":{"field":"e"}}},{"mark":"line","encoding":{"color":{"field":"s"}}},{"mark":"point","encoding":{"color":{"field":"s"},"shape":{"field":"s"}}},{"transform":[{"filter":"datum.k"},{"calculate":"datum.v+(datum.e||0)","as":"h"}],"mark":{"type":"text","text":"*","fill":"#333333"},"encoding":{"y":{"field":"h","type":"quantitative","title":null}}}]}]}
]},
{"spacing":18,"hconcat":[
{"width":99,"height":115,"title":"HvPRR1","layer":[{"data":{"name":"sn"},"mark":"rect","encoding":{"x":{"field":"a","type":"quantitative","title":null,"scale":{"domain":[-1,23]}},"x2":{"field":"b"}}},{"data":{"name":"a7"},"encoding":{"x":{"field":"t","type":"quantitative","title":null,"scale":{"domain":[-1,23]}},"y":{"field":"v","type":"quantitative","title":null,"scale":{"domain":[0,6]},"axis":{"values":[0,1,2,3,4,5,6],"format":".1f"}}},"layer":[{"transform":[{"filter":"datum.e"}],"mark":{"type":"errorbar","color":"#595959"},"encoding":{"yError":{"field":"e"}}},{"mark":"line","encoding":{"color":{"field":"s"}}},{"mark":"point","encoding":{"color":{"field":"s"},"shape":{"field":"s"}}},{"transform":[{"filter":"datum.k"},{"calculate":"datum.v+(datum.e||0)","as":"h"}],"mark":{"type":"text","text":"*","fill":"#333333"},"encoding":{"y":{"field":"h","type":"quantitative","title":null}}}]}]},
{"width":203,"height":115,"title":"HvPRR1","layer":[{"data":{"name":"sw"},"mark":"rect","encoding":{"x":{"field":"a","type":"quantitative","title":null,"scale":{"domain":[7,51]}},"x2":{"field":"b"}}},{"data":{"name":"a8"},"encoding":{"x":{"field":"t","type":"quantitative","title":null,"scale":{"domain":[7,51]}},"y":{"field":"v","type":"quantitative","title":null,"scale":{"domain":[0,3]},"axis":{"values":[0,1,2,3],"format":".1f"}}},"layer":[{"transform":[{"filter":"datum.e"}],"mark":{"type":"errorbar","color":"#595959"},"encoding":{"yError":{"field":"e"}}},{"mark":"line","encoding":{"color":{"field":"s"}}},{"mark":"point","encoding":{"color":{"field":"s"},"shape":{"field":"s"}}},{"transform":[{"filter":"datum.k"},{"calculate":"datum.v+(datum.e||0)","as":"h"}],"mark":{"type":"text","text":"*","fill":"#333333"},"encoding":{"y":{"field":"h","type":"quantitative","title":null}}}]}]}
]}
]}
]},
{"spacing":9,"vconcat":[
{"spacing":14,"hconcat":[
{"spacing":8,"hconcat":[
{"width":94,"height":115,"title":"HvPRR73","layer":[{"data":{"name":"sn"},"mark":"rect","encoding":{"x":{"field":"a","type":"quantitative","title":null,"scale":{"domain":[-1,23]}},"x2":{"field":"b"}}},{"data":{"name":"a9"},"encoding":{"x":{"field":"t","type":"quantitative","title":null,"scale":{"domain":[-1,23]}},"y":{"field":"v","type":"quantitative","title":null,"scale":{"domain":[0,6]},"axis":{"values":[0,1,2,3,4,5,6],"format":".1f"}}},"layer":[{"transform":[{"filter":"datum.e"}],"mark":{"type":"errorbar","color":"#595959"},"encoding":{"yError":{"field":"e"}}},{"mark":"line","encoding":{"color":{"field":"s"}}},{"mark":"point","encoding":{"color":{"field":"s"},"shape":{"field":"s"}}},{"transform":[{"filter":"datum.k"},{"calculate":"datum.v+(datum.e||0)","as":"h"}],"mark":{"type":"text","text":"*","fill":"#333333"},"encoding":{"y":{"field":"h","type":"quantitative","title":null}}}]}]},
{"width":215,"height":115,"title":"HvPRR73","layer":[{"data":{"name":"sw"},"mark":"rect","encoding":{"x":{"field":"a","type":"quantitative","title":null,"scale":{"domain":[7,51]}},"x2":{"field":"b"}}},{"data":{"name":"a10"},"encoding":{"x":{"field":"t","type":"quantitative","title":null,"scale":{"domain":[7,51]}},"y":{"field":"v","type":"quantitative","title":null,"scale":{"domain":[0,5]},"axis":{"values":[0,1,2,3,4,5],"format":".1f"}}},"layer":[{"transform":[{"filter":"datum.e"}],"mark":{"type":"errorbar","color":"#595959"},"encoding":{"yError":{"field":"e"}}},{"mark":"line","encoding":{"color":{"field":"s"}}},{"mark":"point","encoding":{"color":{"field":"s"},"shape":{"field":"s"}}},{"transform":[{"filter":"datum.k"},{"calculate":"datum.v+(datum.e||0)","as":"h"}],"mark":{"type":"text","text":"*","fill":"#333333"},"encoding":{"y":{"field":"h","type":"quantitative","title":null}}}]}]}
]},
{"spacing":18,"hconcat":[
{"width":99,"height":115,"title":"HvELF3","layer":[{"data":{"name":"sn"},"mark":"rect","encoding":{"x":{"field":"a","type":"quantitative","title":null,"scale":{"domain":[-1,23]}},"x2":{"field":"b"}}},{"data":{"name":"a11"},"encoding":{"x":{"field":"t","type":"quantitative","title":null,"scale":{"domain":[-1,23]}},"y":{"field":"v","type":"quantitative","title":null,"scale":{"domain":[0,3]},"axis":{"values":[0,1,2,3],"format":".1f"}}},"layer":[{"transform":[{"filter":"datum.e"}],"mark":{"type":"errorbar","color":"#595959"},"encoding":{"yError":{"field":"e"}}},{"mark":"line","encoding":{"color":{"field":"s"}}},{"mark":"point","encoding":{"color":{"field":"s"},"shape":{"field":"s"}}},{"transform":[{"filter":"datum.k"},{"calculate":"datum.v+(datum.e||0)","as":"h"}],"mark":{"type":"text","text":"*","fill":"#333333"},"encoding":{"y":{"field":"h","type":"quantitative","title":null}}}]}]},
{"width":203,"height":115,"title":"HvELF3","layer":[{"data":{"name":"sw"},"mark":"rect","encoding":{"x":{"field":"a","type":"quantitative","title":null,"scale":{"domain":[7,51]}},"x2":{"field":"b"}}},{"data":{"name":"a12"},"encoding":{"x":{"field":"t","type":"quantitative","title":null,"scale":{"domain":[7,51]}},"y":{"field":"v","type":"quantitative","title":null,"scale":{"domain":[0,3]},"axis":{"values":[0,1,2,3],"format":".1f"}}},"layer":[{"transform":[{"filter":"datum.e"}],"mark":{"type":"errorbar","color":"#595959"},"encoding":{"yError":{"field":"e"}}},{"mark":"line","encoding":{"color":{"field":"s"}}},{"mark":"point","encoding":{"color":{"field":"s"},"shape":{"field":"s"}}},{"transform":[{"filter":"datum.k"},{"calculate":"datum.v+(datum.e||0)","as":"h"}],"mark":{"type":"text","text":"*","fill":"#333333"},"encoding":{"y":{"field":"h","type":"quantitative","title":null}}}]}]}
]}
]},
{"spacing":0,"vconcat":[
{"spacing":14,"hconcat":[
{"spacing":8,"hconcat":[
{"width":94,"height":115,"title":"HvELF4","layer":[{"data":{"name":"sn"},"mark":"rect","encoding":{"x":{"field":"a","type":"quantitative","title":null,"scale":{"domain":[-1,23]}},"x2":{"field":"b"}}},{"data":{"name":"a13"},"encoding":{"x":{"field":"t","type":"quantitative","title":null,"scale":{"domain":[-1,23]}},"y":{"field":"v","type":"quantitative","title":null,"scale":{"domain":[0,4]},"axis":{"values":[0,1,2,3,4],"format":".1f"}}},"layer":[{"transform":[{"filter":"datum.e"}],"mark":{"type":"errorbar","color":"#595959"},"encoding":{"yError":{"field":"e"}}},{"mark":"line","encoding":{"color":{"field":"s"}}},{"mark":"point","encoding":{"color":{"field":"s"},"shape":{"field":"s"}}},{"transform":[{"filter":"datum.k"},{"calculate":"datum.v+(datum.e||0)","as":"h"}],"mark":{"type":"text","text":"*","fill":"#333333"},"encoding":{"y":{"field":"h","type":"quantitative","title":null}}}]}]},
{"width":215,"height":115,"title":"HvELF4","layer":[{"data":{"name":"sw"},"mark":"rect","encoding":{"x":{"field":"a","type":"quantitative","title":null,"scale":{"domain":[7,51]}},"x2":{"field":"b"}}},{"data":{"name":"a14"},"encoding":{"x":{"field":"t","type":"quantitative","title":null,"scale":{"domain":[7,51]}},"y":{"field":"v","type":"quantitative","title":null,"scale":{"domain":[0,2]},"axis":{"values":[0,0.5,1,1.5,2],"format":".1f"}}},"layer":[{"transform":[{"filter":"datum.e"}],"mark":{"type":"errorbar","color":"#595959"},"encoding":{"yError":{"field":"e"}}},{"mark":"line","encoding":{"color":{"field":"s"}}},{"mark":"point","encoding":{"color":{"field":"s"},"shape":{"field":"s"}}},{"transform":[{"filter":"datum.k"},{"calculate":"datum.v+(datum.e||0)","as":"h"}],"mark":{"type":"text","text":"*","fill":"#333333"},"encoding":{"y":{"field":"h","type":"quantitative","title":null}}}]}]}
]},
{"spacing":18,"hconcat":[
{"width":99,"height":115,"title":"HvPHYC","layer":[{"data":{"name":"sn"},"mark":"rect","encoding":{"x":{"field":"a","type":"quantitative","title":null,"scale":{"domain":[-1,23]}},"x2":{"field":"b"}}},{"data":{"name":"a15"},"encoding":{"x":{"field":"t","type":"quantitative","title":null,"scale":{"domain":[-1,23]}},"y":{"field":"v","type":"quantitative","title":null,"scale":{"domain":[0,1.2]},"axis":{"values":[0,0.2,0.4,0.6,0.8,1,1.2],"format":".1f"}}},"layer":[{"transform":[{"filter":"datum.e"}],"mark":{"type":"errorbar","color":"#595959"},"encoding":{"yError":{"field":"e"}}},{"mark":"line","encoding":{"color":{"field":"s"}}},{"mark":"point","encoding":{"color":{"field":"s"},"shape":{"field":"s"}}},{"transform":[{"filter":"datum.k"},{"calculate":"datum.v+(datum.e||0)","as":"h"}],"mark":{"type":"text","text":"*","fill":"#333333"},"encoding":{"y":{"field":"h","type":"quantitative","title":null}}}]}]},
{"width":203,"height":115,"title":"HvPHYC","layer":[{"data":{"name":"sw"},"mark":"rect","encoding":{"x":{"field":"a","type":"quantitative","title":null,"scale":{"domain":[7,51]}},"x2":{"field":"b"}}},{"data":{"name":"a16"},"encoding":{"x":{"field":"t","type":"quantitative","title":null,"scale":{"domain":[7,51]}},"y":{"field":"v","type":"quantitative","title":null,"scale":{"domain":[0,0.5]},"axis":{"values":[0,0.1,0.2,0.3,0.4,0.5],"format":".1f"}}},"layer":[{"transform":[{"filter":"datum.e"}],"mark":{"type":"errorbar","color":"#595959"},"encoding":{"yError":{"field":"e"}}},{"mark":"line","encoding":{"color":{"field":"s"}}},{"mark":"point","encoding":{"color":{"field":"s"},"shape":{"field":"s"}}},{"transform":[{"filter":"datum.k"},{"calculate":"datum.v+(datum.e||0)","as":"h"}],"mark":{"type":"text","text":"*","fill":"#333333"},"encoding":{"y":{"field":"h","type":"quantitative","title":null}}}]}]}
]}
]},
{"spacing":14,"hconcat":[
{"spacing":25,"hconcat":[
{"width":94,"height":11,"data":{"name":"bn"},"mark":{"type":"rect","stroke":"#000000","strokeWidth":2},"encoding":{"x":{"field":"a","type":"quantitative","scale":{"domain":[-1,23]},"axis":{"labels":true,"values":[0,4,8,12,16,20],"labelExpr":"'T'+datum.value","labelAngle":-90,"labelFontSize":10.5,"labelColor":"#000000","labelPadding":4,"domain":false,"title":"Time (h)","titleFont":"Liberation Serif","titleFontWeight":"bold","titleFontSize":11,"titleColor":"#000000","titlePadding":5}},"x2":{"field":"b"},"fill":{"field":"c","type":"nominal","scale":{"domain":["L","D","S"],"range":["#ffffff","#000000","#808080"]}}}},
{"width":215,"height":11,"data":{"name":"bw"},"mark":{"type":"rect","stroke":"#000000","strokeWidth":2},"encoding":{"x":{"field":"a","type":"quantitative","scale":{"domain":[7,51]},"axis":{"labels":true,"values":[8,12,16,20,24,28,32,36,40,44,48],"labelExpr":"'T'+datum.value","labelAngle":-90,"labelFontSize":10.5,"labelColor":"#000000","labelPadding":4,"domain":false,"title":"Time (h)","titleFont":"Liberation Serif","titleFontWeight":"bold","titleFontSize":11,"titleColor":"#000000","titlePadding":5}},"x2":{"field":"b"},"fill":{"field":"c","type":"nominal","scale":{"domain":["L","D","S"],"range":["#ffffff","#000000","#808080"]}}}}
]},
{"spacing":35,"hconcat":[
{"width":99,"height":11,"data":{"name":"bn"},"mark":{"type":"rect","stroke":"#000000","strokeWidth":2},"encoding":{"x":{"field":"a","type":"quantitative","scale":{"domain":[-1,23]},"axis":{"labels":true,"values":[0,4,8,12,16,20],"labelExpr":"'T'+datum.value","labelAngle":-90,"labelFontSize":10.5,"labelColor":"#000000","labelPadding":4,"domain":false,"title":"Time (h)","titleFont":"Liberation Serif","titleFontWeight":"bold","titleFontSize":11,"titleColor":"#000000","titlePadding":5}},"x2":{"field":"b"},"fill":{"field":"c","type":"nominal","scale":{"domain":["L","D","S"],"range":["#ffffff","#000000","#808080"]}}}},
{"width":203,"height":11,"data":{"name":"bw"},"mark":{"type":"rect","stroke":"#000000","strokeWidth":2},"encoding":{"x":{"field":"a","type":"quantitative","scale":{"domain":[7,51]},"axis":{"labels":true,"values":[8,12,16,20,24,28,32,36,40,44,48],"labelExpr":"'T'+datum.value","labelAngle":-90,"labelFontSize":10.5,"labelColor":"#000000","labelPadding":4,"domain":false,"title":"Time (h)","titleFont":"Liberation Serif","titleFontWeight":"bold","titleFontSize":11,"titleColor":"#000000","titlePadding":5}},"x2":{"field":"b"},"fill":{"field":"c","type":"nominal","scale":{"domain":["L","D","S"],"range":["#ffffff","#000000","#808080"]}}}}
]}
]}
]}
]}
]},
{"title":{"text":"B","font":"Liberation Sans","fontStyle":"normal","fontWeight":"bold","fontSize":15,"dx":-8,"offset":-4},
"spacing":2,
"vconcat":[
{"spacing":14,"hconcat":[
{"spacing":8,"hconcat":[
{"width":94,"height":113,"title":"HvCCR2","layer":[{"data":{"name":"sn"},"mark":"rect","encoding":{"x":{"field":"a","type":"quantitative","title":null,"scale":{"domain":[-1,23]}},"x2":{"field":"b"}}},{"data":{"name":"b1"},"encoding":{"x":{"field":"t","type":"quantitative","title":null,"scale":{"domain":[-1,23]}},"y":{"field":"v","type":"quantitative","title":null,"scale":{"domain":[0,15]},"axis":{"values":[0,3,6,9,12,15],"format":".1f"}}},"layer":[{"transform":[{"filter":"datum.e"}],"mark":{"type":"errorbar","color":"#595959"},"encoding":{"yError":{"field":"e"}}},{"mark":"line","encoding":{"color":{"field":"s"}}},{"mark":"point","encoding":{"color":{"field":"s"},"shape":{"field":"s"}}},{"transform":[{"filter":"datum.k"},{"calculate":"datum.v+(datum.e||0)","as":"h"}],"mark":{"type":"text","text":"*","fill":"#333333"},"encoding":{"y":{"field":"h","type":"quantitative","title":null}}}]}]},
{"width":215,"height":113,"title":"HvCCR2","layer":[{"data":{"name":"sw"},"mark":"rect","encoding":{"x":{"field":"a","type":"quantitative","title":null,"scale":{"domain":[7,51]}},"x2":{"field":"b"}}},{"data":{"name":"b2"},"encoding":{"x":{"field":"t","type":"quantitative","title":null,"scale":{"domain":[7,51]}},"y":{"field":"v","type":"quantitative","title":null,"scale":{"domain":[0,5]},"axis":{"values":[0,1,2,3,4,5],"format":".1f"}}},"layer":[{"transform":[{"filter":"datum.e"}],"mark":{"type":"errorbar","color":"#595959"},"encoding":{"yError":{"field":"e"}}},{"mark":"line","encoding":{"color":{"field":"s"}}},{"mark":"point","encoding":{"color":{"field":"s"},"shape":{"field":"s"}}},{"transform":[{"filter":"datum.k"},{"calculate":"datum.v+(datum.e||0)","as":"h"}],"mark":{"type":"text","text":"*","fill":"#333333"},"encoding":{"y":{"field":"h","type":"quantitative","title":null}}}]}]}
]},
{"spacing":18,"hconcat":[
{"width":99,"height":113,"title":"HvCO1","layer":[{"data":{"name":"sn"},"mark":"rect","encoding":{"x":{"field":"a","type":"quantitative","title":null,"scale":{"domain":[-1,23]}},"x2":{"field":"b"}}},{"data":{"name":"b3"},"encoding":{"x":{"field":"t","type":"quantitative","title":null,"scale":{"domain":[-1,23]}},"y":{"field":"v","type":"quantitative","title":null,"scale":{"domain":[0,4]},"axis":{"values":[0,1,2,3,4],"format":".1f"}}},"layer":[{"transform":[{"filter":"datum.e"}],"mark":{"type":"errorbar","color":"#595959"},"encoding":{"yError":{"field":"e"}}},{"mark":"line","encoding":{"color":{"field":"s"}}},{"mark":"point","encoding":{"color":{"field":"s"},"shape":{"field":"s"}}},{"transform":[{"filter":"datum.k"},{"calculate":"datum.v+(datum.e||0)","as":"h"}],"mark":{"type":"text","text":"*","fill":"#333333"},"encoding":{"y":{"field":"h","type":"quantitative","title":null}}}]}]},
{"width":203,"height":113,"title":"HvCO1","layer":[{"data":{"name":"sw"},"mark":"rect","encoding":{"x":{"field":"a","type":"quantitative","title":null,"scale":{"domain":[7,51]}},"x2":{"field":"b"}}},{"data":{"name":"b4"},"encoding":{"x":{"field":"t","type":"quantitative","title":null,"scale":{"domain":[7,51]}},"y":{"field":"v","type":"quantitative","title":null,"scale":{"domain":[0,4]},"axis":{"values":[0,1,2,3,4],"format":".1f"}}},"layer":[{"transform":[{"filter":"datum.e"}],"mark":{"type":"errorbar","color":"#595959"},"encoding":{"yError":{"field":"e"}}},{"mark":"line","encoding":{"color":{"field":"s"}}},{"mark":"point","encoding":{"color":{"field":"s"},"shape":{"field":"s"}}},{"transform":[{"filter":"datum.k"},{"calculate":"datum.v+(datum.e||0)","as":"h"}],"mark":{"type":"text","text":"*","fill":"#333333"},"encoding":{"y":{"field":"h","type":"quantitative","title":null}}}]}]}
]}
]},
{"spacing":7,"vconcat":[
{"spacing":14,"hconcat":[
{"spacing":8,"hconcat":[
{"width":94,"height":115,"title":"VRN-H1","layer":[{"data":{"name":"sn"},"mark":"rect","encoding":{"x":{"field":"a","type":"quantitative","title":null,"scale":{"domain":[-1,23]}},"x2":{"field":"b"}}},{"data":{"name":"b5"},"encoding":{"x":{"field":"t","type":"quantitative","title":null,"scale":{"domain":[-1,23]}},"y":{"field":"v","type":"quantitative","title":null,"scale":{"domain":[0,5]},"axis":{"values":[0,1,2,3,4,5],"format":".1f"}}},"layer":[{"transform":[{"filter":"datum.e"}],"mark":{"type":"errorbar","color":"#595959"},"encoding":{"yError":{"field":"e"}}},{"mark":"line","encoding":{"color":{"field":"s"}}},{"mark":"point","encoding":{"color":{"field":"s"},"shape":{"field":"s"}}}]}]},
{"width":215,"height":115,"title":"VRN-H1","layer":[{"data":{"name":"sw"},"mark":"rect","encoding":{"x":{"field":"a","type":"quantitative","title":null,"scale":{"domain":[7,51]}},"x2":{"field":"b"}}},{"data":{"name":"b6"},"encoding":{"x":{"field":"t","type":"quantitative","title":null,"scale":{"domain":[7,51]}},"y":{"field":"v","type":"quantitative","title":null,"scale":{"domain":[0,2.5]},"axis":{"values":[0,0.5,1,1.5,2,2.5],"format":".1f"}}},"layer":[{"mark":"line","encoding":{"color":{"field":"s"}}},{"mark":"point","encoding":{"color":{"field":"s"},"shape":{"field":"s"}}}]}]}
]},
{"spacing":18,"hconcat":[
{"width":99,"height":115,"title":"HvFT1","layer":[{"data":{"name":"sn"},"mark":"rect","encoding":{"x":{"field":"a","type":"quantitative","title":null,"scale":{"domain":[-1,23]}},"x2":{"field":"b"}}},{"data":{"name":"b7"},"encoding":{"x":{"field":"t","type":"quantitative","title":null,"scale":{"domain":[-1,23]}},"y":{"field":"v","type":"quantitative","title":null,"scale":{"domain":[0,3]},"axis":{"values":[0,1,2,3],"format":".1f"}}},"layer":[{"mark":"line","encoding":{"color":{"field":"s"}}},{"mark":"point","encoding":{"color":{"field":"s"},"shape":{"field":"s"}}}]}]},
{"width":203,"height":115,"title":"HvFT1","layer":[{"data":{"name":"sw"},"mark":"rect","encoding":{"x":{"field":"a","type":"quantitative","title":null,"scale":{"domain":[7,51]}},"x2":{"field":"b"}}},{"data":{"name":"b8"},"encoding":{"x":{"field":"t","type":"quantitative","title":null,"scale":{"domain":[7,51]}},"y":{"field":"v","type":"quantitative","title":null,"scale":{"domain":[0,3]},"axis":{"values":[0,1,2,3],"format":".1f"}}},"layer":[{"transform":[{"filter":"datum.e"}],"mark":{"type":"errorbar","color":"#595959"},"encoding":{"yError":{"field":"e"}}},{"mark":"line","encoding":{"color":{"field":"s"}}},{"mark":"point","encoding":{"color":{"field":"s"},"shape":{"field":"s"}}},{"transform":[{"filter":"datum.k"},{"calculate":"datum.v+(datum.e||0)","as":"h"}],"mark":{"type":"text","text":"*","fill":"#333333"},"encoding":{"y":{"field":"h","type":"quantitative","title":null}}}]}]}
]}
]},
{"spacing":14,"hconcat":[
{"spacing":25,"hconcat":[
{"width":94,"height":11,"data":{"name":"bn"},"mark":{"type":"rect","stroke":"#000000","strokeWidth":2},"encoding":{"x":{"field":"a","type":"quantitative","scale":{"domain":[-1,23]},"axis":{"labels":true,"values":[0,4,8,12,16,20],"labelExpr":"'T'+datum.value","labelAngle":-90,"labelFontSize":10.5,"labelColor":"#000000","labelPadding":4,"domain":false,"title":"Time (h)","titleFont":"Liberation Serif","titleFontWeight":"bold","titleFontSize":11,"titleColor":"#000000","titlePadding":5}},"x2":{"field":"b"},"fill":{"field":"c","type":"nominal","scale":{"domain":["L","D","S"],"range":["#ffffff","#000000","#808080"]}}}},
{"width":215,"height":11,"data":{"name":"bw"},"mark":{"type":"rect","stroke":"#000000","strokeWidth":2},"encoding":{"x":{"field":"a","type":"quantitative","scale":{"domain":[7,51]},"axis":{"labels":true,"values":[8,12,16,20,24,28,32,36,40,44,48],"labelExpr":"'T'+datum.value","labelAngle":-90,"labelFontSize":10.5,"labelColor":"#000000","labelPadding":4,"domain":false,"title":"Time (h)","titleFont":"Liberation Serif","titleFontWeight":"bold","titleFontSize":11,"titleColor":"#000000","titlePadding":5}},"x2":{"field":"b"},"fill":{"field":"c","type":"nominal","scale":{"domain":["L","D","S"],"range":["#ffffff","#000000","#808080"]}}}}
]},
{"spacing":35,"hconcat":[
{"width":99,"height":11,"data":{"name":"bn"},"mark":{"type":"rect","stroke":"#000000","strokeWidth":2},"encoding":{"x":{"field":"a","type":"quantitative","scale":{"domain":[-1,23]},"axis":{"labels":true,"values":[0,4,8,12,16,20],"labelExpr":"'T'+datum.value","labelAngle":-90,"labelFontSize":10.5,"labelColor":"#000000","labelPadding":4,"domain":false,"title":"Time (h)","titleFont":"Liberation Serif","titleFontWeight":"bold","titleFontSize":11,"titleColor":"#000000","titlePadding":5}},"x2":{"field":"b"},"fill":{"field":"c","type":"nominal","scale":{"domain":["L","D","S"],"range":["#ffffff","#000000","#808080"]}}}},
{"width":203,"height":11,"data":{"name":"bw"},"mark":{"type":"rect","stroke":"#000000","strokeWidth":2},"encoding":{"x":{"field":"a","type":"quantitative","scale":{"domain":[7,51]},"axis":{"labels":true,"values":[8,12,16,20,24,28,32,36,40,44,48],"labelExpr":"'T'+datum.value","labelAngle":-90,"labelFontSize":10.5,"labelColor":"#000000","labelPadding":4,"domain":false,"title":"Time (h)","titleFont":"Liberation Serif","titleFontWeight":"bold","titleFontSize":11,"titleColor":"#000000","titlePadding":5}},"x2":{"field":"b"},"fill":{"field":"c","type":"nominal","scale":{"domain":["L","D","S"],"range":["#ffffff","#000000","#808080"]}}}}
]}
]}
]}
]}
]
}
